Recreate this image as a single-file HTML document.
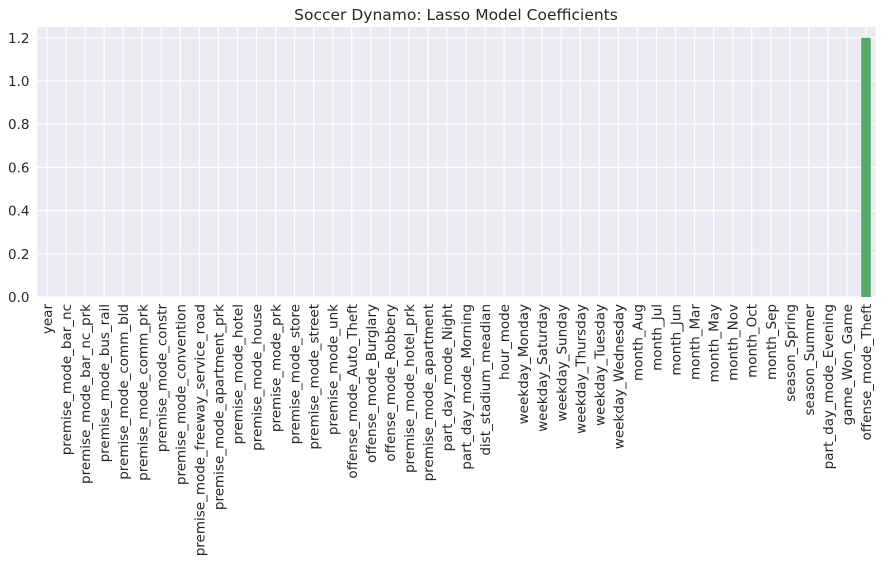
<!DOCTYPE html>
<html><head><meta charset="utf-8"><style>
body{margin:0;background:#fff;}
svg text{font-family:"DejaVu Sans","Liberation Sans",sans-serif;fill:#262626;}
</style></head><body>
<svg id="chart" width="881" height="558" xmlns="http://www.w3.org/2000/svg">
<text x="456" y="20" font-size="15.5" text-anchor="middle">Soccer Dynamo: Lasso Model Coefficients</text>
<rect x="37.5" y="27" width="838" height="270" fill="#eaeaf2"/>
<g id="grid"></g><g id="bars"></g><g id="yt"></g><g id="xt"></g>
</svg>
<script>
const categories=["year","premise_mode_bar_nc","premise_mode_bar_nc_prk","premise_mode_bus_rail","premise_mode_comm_bld","premise_mode_comm_prk","premise_mode_constr","premise_mode_convention","premise_mode_freeway_service_road","premise_mode_apartment_prk","premise_mode_hotel","premise_mode_house","premise_mode_prk","premise_mode_store","premise_mode_street","premise_mode_unk","offense_mode_Auto_Theft","offense_mode_Burglary","offense_mode_Robbery","premise_mode_hotel_prk","premise_mode_apartment","part_day_mode_Night","part_day_mode_Morning","dist_stadium_meadian","hour_mode","weekday_Monday","weekday_Saturday","weekday_Sunday","weekday_Thursday","weekday_Tuesday","weekday_Wednesday","month_Aug","month_Jul","month_Jun","month_Mar","month_May","month_Nov","month_Oct","month_Sep","season_Spring","season_Summer","part_day_mode_Evening","game_Won_Game","offense_mode_Theft"];
const values=[0,0,0,0,0,0,0,0,0,0,0,0,0,0,0,0,0,0,0,0,0,0,0,0,0,0,0,0,0,0,0,0,0,0,0,0,0,0,0,0,0,0,0,1.2];
const yTicks=[0,0.2,0.4,0.6,0.8,1.0,1.2];
const yTickLabels=["0.0","0.2","0.4","0.6","0.8","1.0","1.2"];
const L=37.5,R=875.5,T=27,B=297,yMax=1.25;
const bw=(R-L)/categories.length;
const xs=i=>L+bw*(i+0.5);
const ys=v=>B-(v/yMax)*(B-T);
const NS="http://www.w3.org/2000/svg";
function mk(tag,attrs,parent){const e=document.createElementNS(NS,tag);for(const k in attrs)e.setAttribute(k,attrs[k]);document.getElementById(parent).appendChild(e);return e;}
yTicks.forEach((t,i)=>{
 const g=mk('line',{x1:L,x2:R,y1:ys(t),y2:ys(t),stroke:'#fff','stroke-width':1.2},'grid');
 
 
 const tx=mk('text',{x:L-8,y:ys(t)+5,'font-size':13.5,'text-anchor':'end'},'yt');
 tx.textContent=yTickLabels[i];
 
 
});
categories.forEach((c,i)=>{
 const g=mk('line',{x1:xs(i),x2:xs(i),y1:T,y2:B,stroke:'#fff','stroke-width':1.2},'grid');
 
 
 const v=values[i];
 const b=mk('rect',{x:xs(i)-bw*0.25,width:bw*0.5,y:Math.min(ys(v),ys(0)),height:Math.abs(ys(0)-ys(v)),fill:'#55a868'},'bars');
 
 
 const tx=mk('text',{x:0,y:0,'font-size':13.5,'text-anchor':'end',transform:`translate(${xs(i)+5},${B+7}) rotate(-90)`},'xt');
 tx.textContent=c;
 
 
});
</script>
</body></html>
